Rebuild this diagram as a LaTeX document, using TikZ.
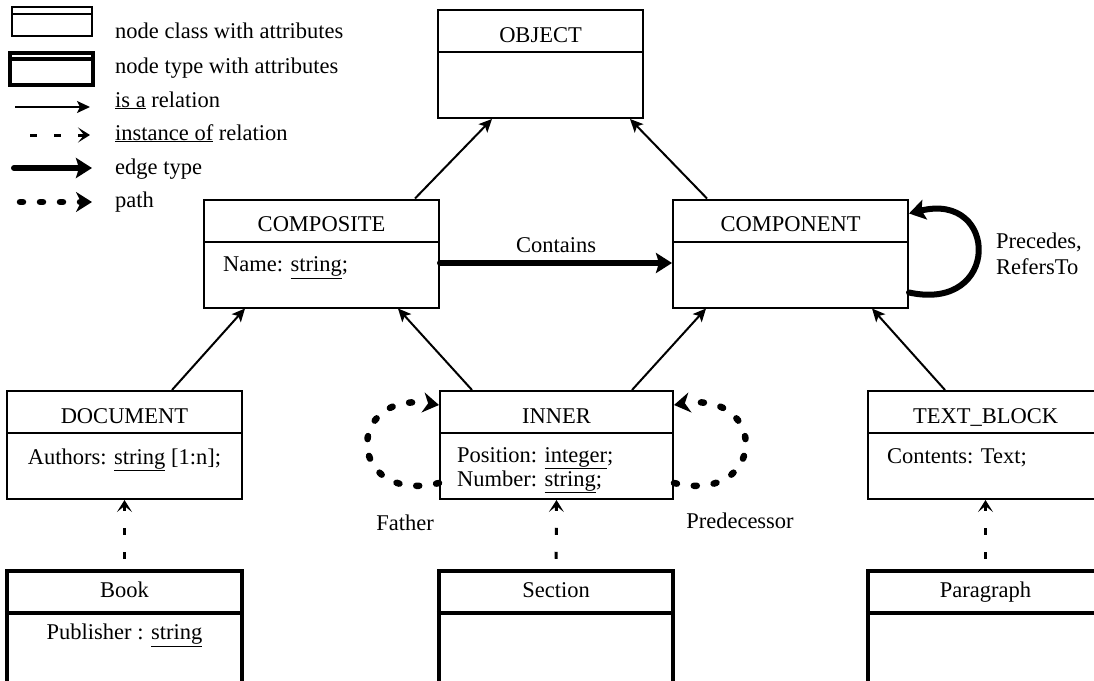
\documentclass[tikz,border=0pt]{standalone}
\usepackage{fontspec}
\setmainfont{Liberation Serif}
\usetikzlibrary{arrows.meta}

\begin{document}
\begin{tikzpicture}[x=1pt, y=-1pt,
  font=\fontsize{22.5}{27}\selectfont,
  every node/.style = {inner sep=0pt},
  classbox/.style = {draw, line width=2pt,
    minimum width=235pt, minimum height=108pt},
  typebox/.style = {classbox, line width=4.5pt, minimum height=120pt},
  isa/.style = {line width=2pt, -{Stealth[length=13pt, width=12pt, inset=3pt]}},
  instanceof/.style = {line width=3pt, dash pattern=on 7pt off 17pt,
    -{Stealth[length=12pt, width=15pt, inset=6pt]}},
  edgetype/.style = {line width=6pt, line cap=round,
    -{Stealth[length=16pt, width=20pt, inset=3pt]}},
  pathedge/.style = {line width=6.5pt, line cap=round, dash pattern=on 3pt off 17pt,
    -{Stealth[length=16pt, width=20pt, inset=5pt]}}]

  \useasboundingbox (0,0) rectangle (1094,680);
  \clip (0,0) rectangle (1094,680);

  % legend
  \node[classbox, minimum width=80pt, minimum height=29pt] (legclass) at (52,21.5) {};
  \draw[line width=2pt] ([yshift=-8pt]legclass.north west) -- ([yshift=-8pt]legclass.north east);
  \node[typebox, minimum width=83pt, minimum height=32pt] (legtype) at (51.5,69) {};
  \draw[line width=4pt] ([yshift=-8pt]legtype.north west) -- ([yshift=-8pt]legtype.north east);
  \node[anchor=base west] (legclasstext) at (115,38) {node class with attributes};
  \node[anchor=base west] (legtypetext) at (115,73) {node type with attributes};
  \node[anchor=base west] (legisatext) at (115,107) {\underline{is a} relation};
  \node[anchor=base west] (leginsttext) at (115,140) {\underline{instance of} relation};
  \node[anchor=base west] (legedgetext) at (115,174) {edge type};
  \node[anchor=base west] (legpathtext) at (115,207) {path};
  \coordinate (isafrom) at (15,107);   \coordinate (isato) at (90,107);
  \coordinate (instfrom) at (30,135);  \coordinate (instto) at (90,135);
  \coordinate (edgefrom) at (14,168);  \coordinate (edgeto) at (92,168);
  \coordinate (pathfrom) at (20,202);  \coordinate (pathto) at (92,202);
  \draw[isa] (isafrom) -- (isato);
  \draw[instanceof] (instfrom) -- (instto);
  \draw[edgetype] (edgefrom) -- (edgeto);
  \draw[pathedge] (pathfrom) -- (pathto);

  % classes
  \node[classbox, minimum width=205pt] (object) at (540.5,64) {};
  \node[classbox] (composite) at (321.5,253.5) {};
  \node[classbox] (component) at (790.5,253.5) {};
  \node[classbox] (document) at (124.5,445) {};
  \node[classbox, minimum width=233pt] (inner) at (556.5,445) {};
  \node[classbox] (textblock) at (985.5,445) {};
  \foreach \b in {object,composite,component,document,inner,textblock}
    \draw[line width=2pt] ([yshift=-43pt]\b.north west) -- ([yshift=-43pt]\b.north east);

  % types
  \node[typebox] (book) at (124.5,631) {};
  \node[typebox, minimum width=234pt] (section) at (556,631) {};
  \node[typebox] (paragraph) at (985.5,631) {};
  \foreach \b in {book,section,paragraph}
    \draw[line width=4.5pt] ([yshift=-44pt]\b.north west) -- ([yshift=-44pt]\b.north east);

  % titles and attributes
  \node[anchor=base] (objecttitle) at ([yshift=-33pt]object.north) {OBJECT};
  \node[anchor=base] (compositetitle) at ([yshift=-33pt]composite.north) {COMPOSITE};
  \node[anchor=base] (componenttitle) at ([yshift=-33pt]component.north) {COMPONENT};
  \node[anchor=base] (documenttitle) at ([yshift=-33pt]document.north) {DOCUMENT};
  \node[anchor=base] (innertitle) at ([yshift=-33pt]inner.north) {INNER};
  \node[anchor=base] (textblocktitle) at ([yshift=-33pt]textblock.north) {TEXT\_BLOCK};
  \node[anchor=base] (booktitle) at ([yshift=-29pt]book.north) {Book};
  \node[anchor=base] (sectiontitle) at ([yshift=-29pt]section.north) {Section};
  \node[anchor=base] (paragraphtitle) at ([yshift=-29pt]paragraph.north) {Paragraph};

  \node[anchor=base west] (compositeattr) at ([xshift=20pt, yshift=-73pt]composite.north west) {Name: \underline{string};};
  \node[anchor=base] (documentattr) at ([yshift=-74pt]document.north) {Authors: \underline{string} [1:n];};
  \node[anchor=base west] (innerattra) at ([xshift=18pt, yshift=-72pt]inner.north west) {Position: \underline{integer};};
  \node[anchor=base west] (innerattrb) at ([xshift=18pt, yshift=-96pt]inner.north west) {Number: \underline{string};};
  \node[anchor=base west] (textblockattr) at ([xshift=20pt, yshift=-73pt]textblock.north west) {Contents: Text;};
  \node[anchor=base] (bookattr) at ([yshift=-71pt]book.north) {Publisher : \underline{string}};

  % is a
  \draw[isa] ([xshift=93.5pt]composite.north) -- ([xshift=-48.5pt]object.south);
  \draw[isa] ([xshift=-83.5pt]component.north) -- ([xshift=89.5pt]object.south);
  \draw[isa] ([xshift=47.5pt]document.north) -- ([xshift=-76.5pt]composite.south);
  \draw[isa] ([xshift=-84.5pt]inner.north) -- ([xshift=76.5pt]composite.south);
  \draw[isa] ([xshift=75.5pt]inner.north) -- ([xshift=-84.5pt]component.south);
  \draw[isa] ([xshift=-40.5pt]textblock.north) -- ([xshift=81.5pt]component.south);

  % instance of
  \draw[instanceof, dash phase=14pt] (book.north) -- (document.south);
  \draw[instanceof, dash phase=14pt] (section.north) -- (inner.south);
  \draw[instanceof, dash phase=14pt] (paragraph.north) -- (textblock.south);

  % edge types
  \draw[edgetype] ([yshift=-9.5pt]composite.east) -- ([yshift=-9.5pt]component.west)
    node[pos=0.5, anchor=base, yshift=11pt] (containslabel) {Contains};
  \draw[edgetype] ([yshift=-39pt]component.east) .. controls +(92,20) and +(90,-22) .. ([yshift=40pt]component.east);
  \node[anchor=west, align=left, font=\fontsize{22.5}{26}\selectfont] (precedeslabel) at (996,254) {Precedes,\\RefersTo};

  % paths
  \draw[pathedge] ([yshift=-38pt]inner.west) .. controls +(-93,22) and +(-95,-15) .. ([yshift=40pt]inner.west);
  \draw[pathedge] ([yshift=-38pt]inner.east) .. controls +(93,22) and +(95,-15) .. ([yshift=40pt]inner.east);
  \node[anchor=base] (fatherlabel) at (405,530) {Father};
  \node[anchor=base] (predecessorlabel) at (740,528) {Predecessor};
\end{tikzpicture}
\end{document}
